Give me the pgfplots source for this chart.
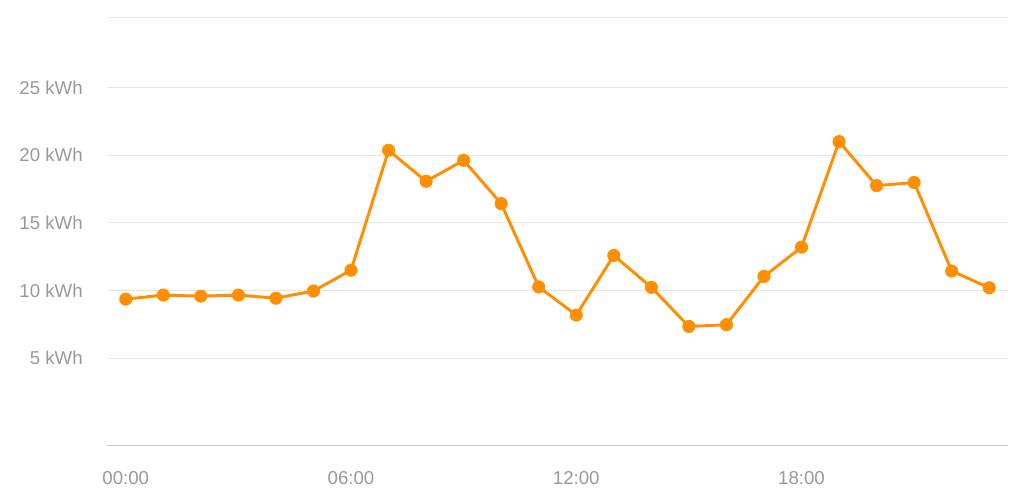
\documentclass[border=0pt]{standalone}
\usepackage{pgfplots}
\pgfplotsset{compat=1.18}
\usepackage{fontspec}
\setmainfont{Liberation Sans}
\definecolor{lineorange}{HTML}{FF8F00}
\definecolor{labgray}{HTML}{999999}
\definecolor{gridgray}{HTML}{E6E6E6}
\definecolor{axisgray}{HTML}{CCCCCC}
\begin{document}
\begin{tikzpicture}[x=1pt,y=1pt]
\useasboundingbox (0,0) rectangle (768,372.75);
\begin{axis}[at={(80.25pt,38.5pt)}, anchor=south west, scale only axis,
  width=675.75pt, height=321.15pt,
  xmin=-0.5, xmax=23.5, ymin=-1.47, ymax=30.18,
  xtick={0,6,12,18}, xticklabels={00:00,06:00,12:00,18:00},
  ytick={5,10,15,20,25}, yticklabels={5 kWh,10 kWh,15 kWh,20 kWh,25 kWh},
  extra y ticks={30.18}, extra y tick labels={},
  extra y tick style={grid=major},
  ymajorgrids, grid style={gridgray, line width=0.75pt},
  major tick length=0pt,
  axis x line*=bottom, axis y line*=left,
  y axis line style={draw=none},
  x axis line style={draw=axisgray, line width=1.1pt, -},
  tick label style={font=\fontsize{14}{16}\selectfont, text=labgray, inner sep=0pt},
  yticklabel style={xshift=-18pt},
  xticklabel style={yshift=-19pt},
  clip=false]
\addplot[lineorange, line width=2.2pt, mark=*, mark size=4.6pt,
  mark options={fill=lineorange, draw=lineorange, line width=0.6pt}] coordinates {
(0,9.36) (1,9.66) (2,9.58) (3,9.66) (4,9.43) (5,9.96) (6,11.5) (7,20.36)
(8,18.07) (9,19.62) (10,16.42) (11,10.26) (12,8.18) (13,12.59) (14,10.23)
(15,7.34) (16,7.47) (17,11.04) (18,13.2) (19,21.0) (20,17.75) (21,17.98)
(22,11.44) (23,10.2)};
\end{axis}
\end{tikzpicture}
\end{document}
